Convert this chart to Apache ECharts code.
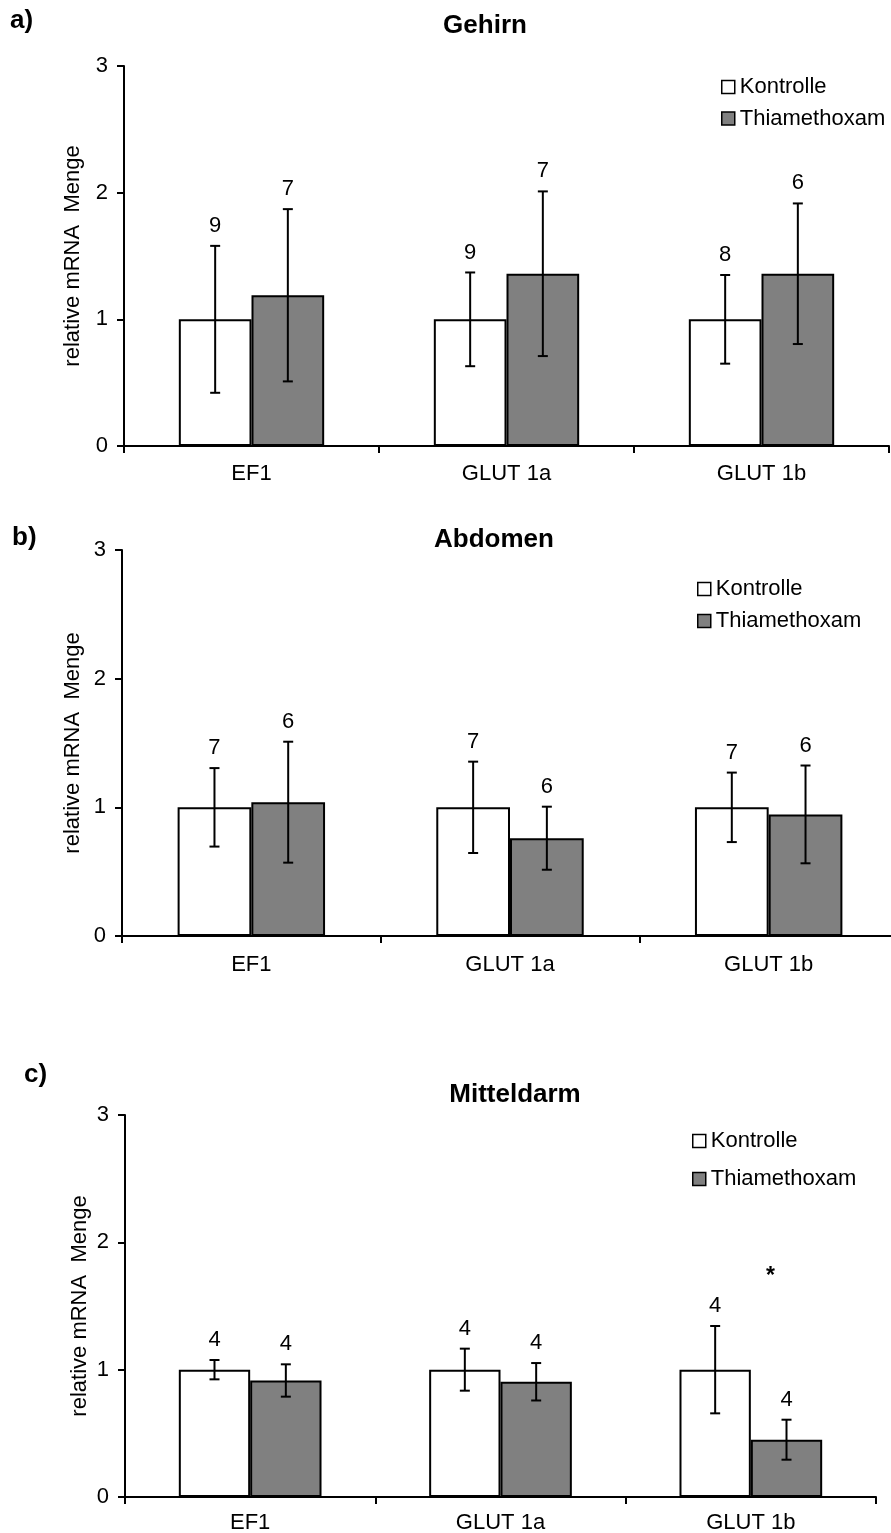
<!DOCTYPE html>
<html>
<head>
<meta charset="utf-8">
<script src="https://cdn.jsdelivr.net/npm/echarts@6/dist/echarts.min.js"></script>
<style>
  html, body { margin: 0; padding: 0; background: #fff; }
  #chart { width: 891px; height: 1533px; }
</style>
</head>
<body>
<div id="chart"></div>
<script>
// ---- data -------------------------------------------------------------
const genes = ['EF1', 'GLUT 1a', 'GLUT 1b'];
const groupNames = ['Kontrolle', 'Thiamethoxam'];
const yAxisTitle = 'relative mRNA  Menge';

// a) Gehirn
const brainCtrlMean = [1.00, 1.00, 1.00];
const brainCtrlSd   = [0.58, 0.37, 0.35];
const brainCtrlN    = [9, 9, 8];
const brainThiaMean = [1.19, 1.36, 1.36];
const brainThiaSd   = [0.68, 0.65, 0.555];
const brainThiaN    = [7, 7, 6];

// b) Abdomen
const abdCtrlMean = [1.00, 1.00, 1.00];
const abdCtrlSd   = [0.305, 0.355, 0.27];
const abdCtrlN    = [7, 7, 7];
const abdThiaMean = [1.04, 0.76, 0.945];
const abdThiaSd   = [0.47, 0.245, 0.38];
const abdThiaN    = [6, 6, 6];

// c) Mitteldarm
const gutCtrlMean = [1.00, 1.00, 1.00];
const gutCtrlSd   = [0.076, 0.165, 0.343];
const gutCtrlN    = [4, 4, 4];
const gutThiaMean = [0.915, 0.905, 0.45];
const gutThiaSd   = [0.127, 0.147, 0.157];
const gutThiaN    = [4, 4, 4];
const gutSignificance = ['', '', '*'];
const gutSignificanceLevel = 1.73;

// ---- styling / layout --------------------------------------------------
const FONT = "'Liberation Sans', Arial, Helvetica, sans-serif";
const FS = 22;          // regular text size
const TEXT = '#000';
const FILL_CTRL = '#ffffff';
const FILL_THIA = '#808080';
const CAT_GAP = 0.43;   // share of each category left empty around the bar pair

const panels = [
  {
    letter: 'a)', title: 'Gehirn',
    ctrl: { mean: brainCtrlMean, sd: brainCtrlSd, n: brainCtrlN },
    thia: { mean: brainThiaMean, sd: brainThiaSd, n: brainThiaN },
    grid: { left: 124, top: 66, width: 765, height: 380 },
    letterPos: [10, 21], titlePos: [485, 26],
    legend: { left: 721, top: 76, itemGap: 9.5 },
    nameGap: 40, xMargin: 17
  },
  {
    letter: 'b)', title: 'Abdomen',
    ctrl: { mean: abdCtrlMean, sd: abdCtrlSd, n: abdCtrlN },
    thia: { mean: abdThiaMean, sd: abdThiaSd, n: abdThiaN },
    grid: { left: 122, top: 550, width: 776, height: 386 },
    letterPos: [12, 538], titlePos: [494, 540],
    legend: { left: 697, top: 578, itemGap: 10 },
    nameGap: 38.5, xMargin: 18
  },
  {
    letter: 'c)', title: 'Mitteldarm',
    ctrl: { mean: gutCtrlMean, sd: gutCtrlSd, n: gutCtrlN },
    thia: { mean: gutThiaMean, sd: gutThiaSd, n: gutThiaN },
    sig: gutSignificance, sigLevel: gutSignificanceLevel,
    grid: { left: 125, top: 1115, width: 751, height: 382 },
    letterPos: [24, 1075], titlePos: [515, 1095],
    legend: { left: 692, top: 1130, itemGap: 16 },
    nameGap: 34, xMargin: 15
  }
];

// error bar + sample size drawn at the centre of one bar of the pair
function renderErrorBar(params, api) {
  const cat = api.value(0);
  const mean = api.value(1);
  const sd = api.value(2);
  const n = api.value(3);
  const side = api.value(4);
  const band = api.size([1, 0])[0];
  const barW = band * (1 - CAT_GAP) / 2;
  const x = api.coord([cat, mean])[0] + side * barW / 2;
  const yTop = api.coord([cat, mean + sd])[1];
  const yBot = api.coord([cat, mean - sd])[1];
  const cap = 5;
  const stroke = { stroke: '#000', lineWidth: 2 };
  return {
    type: 'group',
    children: [
      { type: 'line', shape: { x1: x, y1: yTop, x2: x, y2: yBot }, style: stroke },
      { type: 'line', shape: { x1: x - cap, y1: yTop, x2: x + cap, y2: yTop }, style: stroke },
      { type: 'line', shape: { x1: x - cap, y1: yBot, x2: x + cap, y2: yBot }, style: stroke },
      {
        type: 'text', x: x, y: yTop - 20,
        style: {
          text: String(n), font: FS + 'px ' + FONT, fill: TEXT,
          align: 'center', verticalAlign: 'middle',
          textAlign: 'center', textVerticalAlign: 'middle'
        }
      }
    ]
  };
}

// significance star above the treated bar
function renderStar(params, api) {
  const cat = api.value(0);
  const level = api.value(1);
  const band = api.size([1, 0])[0];
  const barW = band * (1 - CAT_GAP) / 2;
  const p = api.coord([cat, level]);
  return {
    type: 'text', x: p[0] + barW / 2 - 16, y: p[1],
    style: {
      text: '*', font: 'bold 23px ' + FONT, fill: TEXT,
      align: 'center', verticalAlign: 'middle',
      textAlign: 'center', textVerticalAlign: 'middle'
    }
  };
}

const grid = [], xAxis = [], yAxis = [], series = [], legend = [], graphic = [];

panels.forEach((p, i) => {
  grid.push(Object.assign({ containLabel: false, outerBoundsMode: 'none' }, p.grid));

  xAxis.push({
    gridIndex: i, type: 'category', data: genes,
    axisLine: { show: true, lineStyle: { color: '#000', width: 2 } },
    axisTick: { show: true, length: 7, lineStyle: { color: '#000', width: 2 } },
    axisLabel: { color: TEXT, fontSize: FS, fontFamily: FONT, margin: p.xMargin },
    splitLine: { show: false }
  });

  yAxis.push({
    gridIndex: i, type: 'value', min: 0, max: 3, interval: 1,
    axisLine: { show: true, lineStyle: { color: '#000', width: 2 } },
    axisTick: { show: true, length: 7, lineStyle: { color: '#000', width: 2 } },
    axisLabel: { color: TEXT, fontSize: FS, fontFamily: FONT, margin: 16 },
    splitLine: { show: false },
    name: yAxisTitle, nameLocation: 'middle', nameRotate: 90, nameGap: p.nameGap,
    nameMoveOverlap: false,
    nameTextStyle: { color: TEXT, fontSize: FS, fontFamily: FONT }
  });

  const barBase = {
    type: 'bar', xAxisIndex: i, yAxisIndex: i,
    barGap: '0%', barCategoryGap: (CAT_GAP * 100) + '%',
    emphasis: { disabled: true }, silent: true
  };
  series.push(Object.assign({}, barBase, {
    name: groupNames[0], data: p.ctrl.mean,
    itemStyle: { color: FILL_CTRL, borderColor: '#000', borderWidth: 2 }
  }));
  series.push(Object.assign({}, barBase, {
    name: groupNames[1], data: p.thia.mean,
    itemStyle: { color: FILL_THIA, borderColor: '#000', borderWidth: 2 }
  }));

  const errData = [];
  genes.forEach((g, k) => {
    errData.push([k, p.ctrl.mean[k], p.ctrl.sd[k], p.ctrl.n[k], -1]);
    errData.push([k, p.thia.mean[k], p.thia.sd[k], p.thia.n[k], 1]);
  });
  series.push({
    type: 'custom', name: 'SD ' + p.title, xAxisIndex: i, yAxisIndex: i,
    data: errData, renderItem: renderErrorBar, z: 5, silent: true,
    encode: { x: 0, y: 1 }, clip: false
  });

  if (p.sig) {
    const starData = [];
    p.sig.forEach((s, k) => { if (s) starData.push([k, p.sigLevel]); });
    series.push({
      type: 'custom', name: 'Signifikanz', xAxisIndex: i, yAxisIndex: i,
      data: starData, renderItem: renderStar, z: 6, silent: true,
      encode: { x: 0, y: 1 }, clip: false
    });
  }

  legend.push({
    data: groupNames, orient: 'vertical',
    left: p.legend.left, top: p.legend.top, itemGap: p.legend.itemGap,
    icon: 'rect', itemWidth: 13, itemHeight: 13, padding: 0,
    selectedMode: false,
    itemStyle: { borderColor: '#000', borderWidth: 1.5 },
    textStyle: { color: TEXT, fontSize: FS, fontFamily: FONT, lineHeight: 22, padding: [0, 0, 0, 0] }
  });

  graphic.push({
    type: 'text', x: p.letterPos[0], y: p.letterPos[1],
    style: {
      text: p.letter, font: 'bold 26px ' + FONT, fill: TEXT,
      align: 'left', verticalAlign: 'middle', textAlign: 'left', textVerticalAlign: 'middle'
    }
  });
  graphic.push({
    type: 'text', x: p.titlePos[0], y: p.titlePos[1],
    style: {
      text: p.title, font: 'bold 26px ' + FONT, fill: TEXT,
      align: 'center', verticalAlign: 'middle', textAlign: 'center', textVerticalAlign: 'middle'
    }
  });
});

const chart = echarts.init(document.getElementById('chart'), null, { renderer: 'canvas' });
chart.setOption({
  backgroundColor: '#ffffff',
  animation: false,
  textStyle: { fontFamily: FONT },
  grid, xAxis, yAxis, series, legend, graphic
});
</script>
</body>
</html>
